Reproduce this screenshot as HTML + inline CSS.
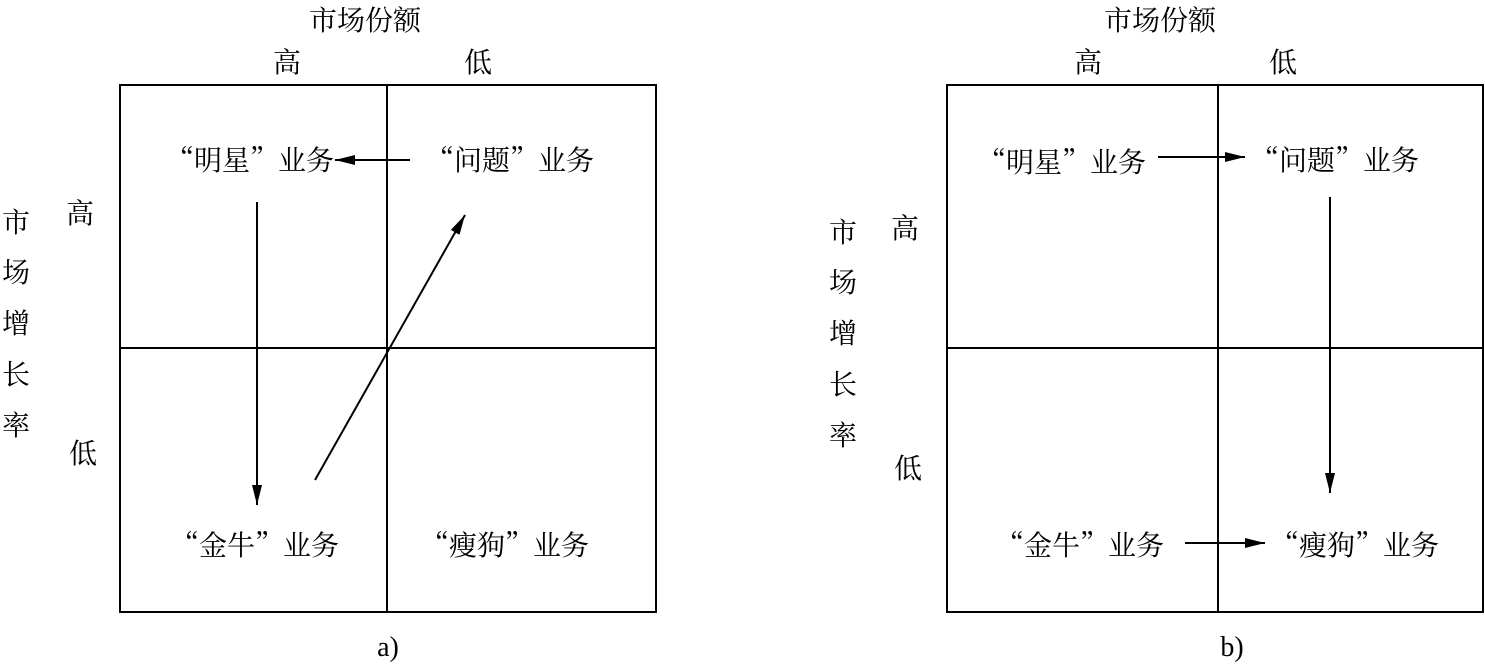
<!DOCTYPE html>
<html><head><meta charset="utf-8"><style>
html,body{margin:0;padding:0;background:#fff;}
svg text{font-family:"Noto Serif CJK SC","Liberation Serif",serif;fill:#000;font-size:28px;}
svg text.lat{font-family:"Liberation Serif",serif;}
</style></head><body>
<svg width="1485" height="664" viewBox="0 0 1485 664" xmlns="http://www.w3.org/2000/svg">
<defs>
<marker id="ah" viewBox="0 0 20 10" refX="20" refY="5" markerWidth="20" markerHeight="10" markerUnits="userSpaceOnUse" orient="auto">
<path d="M0,0 L20,5 L0,10 z" fill="#000"/></marker>
</defs>
<g stroke="#000" stroke-width="2" fill="none">
<rect x="120" y="85" width="536" height="527"/>
<line x1="387" y1="85" x2="387" y2="612"/>
<line x1="120" y1="348" x2="656" y2="348"/>
<rect x="947" y="85" width="536" height="527"/>
<line x1="1218" y1="85" x2="1218" y2="612"/>
<line x1="947" y1="348" x2="1483" y2="348"/>
</g>
<g stroke="#000" stroke-width="2" marker-end="url(#ah)">
<line x1="410" y1="160" x2="335" y2="160"/>
<line x1="257" y1="202" x2="257" y2="505"/>
<line x1="315" y1="480" x2="465" y2="215"/>
<line x1="1158" y1="157" x2="1245" y2="157"/>
<line x1="1330" y1="197" x2="1330" y2="493"/>
<line x1="1185" y1="543" x2="1265" y2="543"/>
</g>
<g text-anchor="middle">
<text x="365" y="30">市场份额</text>
<text x="287" y="72">高</text>
<text x="478" y="72">低</text>
<text x="80" y="223">高</text>
<text x="83" y="463">低</text>
<text x="16" y="232">市</text><text x="16" y="282">场</text><text x="16" y="333">增</text><text x="16" y="384">长</text><text x="16" y="435">率</text>
<text x="250" y="170">“明星”业务</text>
<text x="510" y="170">“问题”业务</text>
<text x="255" y="555">“金牛”业务</text>
<text x="505" y="555">“瘦狗”业务</text>
<text class="lat" x="388" y="656">a)</text>

<text x="1160" y="30">市场份额</text>
<text x="1088" y="72">高</text>
<text x="1283" y="72">低</text>
<text x="905" y="238">高</text>
<text x="908" y="478">低</text>
<text x="843" y="242">市</text><text x="843" y="292">场</text><text x="843" y="343">增</text><text x="843" y="394">长</text><text x="843" y="445">率</text>
<text x="1062" y="172">“明星”业务</text>
<text x="1335" y="170">“问题”业务</text>
<text x="1080" y="555">“金牛”业务</text>
<text x="1355" y="555">“瘦狗”业务</text>
<text class="lat" x="1232" y="656">b)</text>
</g>
</svg>
</body></html>
